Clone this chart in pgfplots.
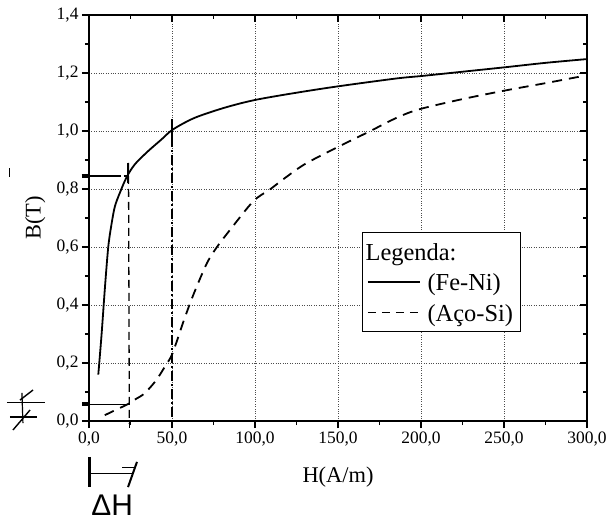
\documentclass[border=0pt]{standalone}
\usepackage{fontspec}
\setmainfont{Liberation Serif}
\newfontfamily\handfont{Liberation Sans}
\usepackage{pgfplots}
\pgfplotsset{compat=1.18}
\usetikzlibrary{calc}

\begin{document}
\begin{tikzpicture}
\begin{axis}[
    name=main,
    scale only axis, width=498bp, height=406bp,
    xmin=0, xmax=300, ymin=0, ymax=1.4,
    xtick={0,50,100,150,200,250,300}, minor x tick num=1,
    ytick={0,0.2,0.4,0.6,0.8,1.0,1.2,1.4}, minor y tick num=1,
    tick pos=left, tick align=outside,
    major tick length=7bp, minor tick length=4bp,
    every tick/.style={black, line width=1.2bp},
    axis line style={line width=1.4bp},
    grid=major, grid style={dotted, black!70, line width=0.7bp},
    scaled ticks=false,
    /pgf/number format/fixed,
    /pgf/number format/fixed zerofill,
    /pgf/number format/precision=1,
    /pgf/number format/use comma,
    /pgf/number format/assume math mode=true,
    tick label style={font=\fontsize{17.5}{19}\selectfont},
    label style={font=\fontsize{22.5}{25}\selectfont},
    xlabel={H(A/m)}, ylabel={B(T)},
    xlabel style={at={(axis description cs:0.5,-0.138)}, anchor=center},
    ylabel style={at={(axis description cs:-0.108,0.5)}, anchor=center},
    clip=false,
    legend style={at={(0.548,0.466)}, anchor=north west, draw=black, line width=0.8bp,
        fill=white, font=\fontsize{24.5}{27}\selectfont, cells={anchor=west},
        inner xsep=5bp, inner ysep=4bp,
        nodes={text height=22bp, text depth=4bp, inner ysep=2.25bp},
        /tikz/every odd column/.append style={column sep=5bp}},
    legend image code/.code={\draw[#1, line width=1.3bp] (0bp,0bp) -- (52bp,0bp);},
]
% Fe-Ni
\addplot[black, line width=1.8bp, smooth, tension=0.5, forget plot] coordinates {
(5.6,0.16) (7.6,0.30) (9.6,0.46) (11.6,0.60) (13.6,0.68) (15.6,0.74)
(18.6,0.787) (22.6,0.84) (27.6,0.885) (35.5,0.93) (43.5,0.97) (50.5,1.005)
(63.5,1.045) (81.5,1.08) (100,1.107) (125,1.132) (150,1.154) (185,1.181)
(201,1.19) (226,1.205) (251,1.22) (275,1.235) (300,1.248)
};
% Aco-Si
\addplot[black, line width=1.8bp, dash pattern=on 10bp off 7bp, smooth, tension=0.5, forget plot] coordinates {
(9.5,0.02) (16,0.038) (23.4,0.058) (28,0.075) (33.4,0.095) (40.4,0.14)
(46.3,0.193) (50.3,0.233) (57.2,0.348) (63.2,0.44) (71.1,0.545) (77.1,0.60)
(85.1,0.66) (99,0.758) (108.9,0.798) (116.9,0.833) (129.8,0.885) (149.3,0.943)
(169.5,1.0) (185.5,1.046) (199,1.075) (225,1.11) (251,1.14) (275,1.165) (298,1.19)
};

\addlegendimage{empty legend}
\addlegendentry{\hspace*{-62bp}Legenda:}
\addlegendimage{black}
\addlegendentry{(Fe-Ni)}
\addlegendimage{black, dash pattern=on 8bp off 6bp}
\addlegendentry{(Aço-Si)}

% hand-drawn marks
\draw[line width=1.3bp] (axis cs:-4,0.845) -- (axis cs:16,0.845);
\draw[line width=1.3bp, dash pattern=on 5bp off 3bp] (axis cs:16,0.845) -- (axis cs:23,0.845);
\draw[line width=4bp] (axis cs:-4.5,0.845) -- (axis cs:0,0.845);
\draw[line width=1.2bp] (axis cs:23.5,0.82) -- (axis cs:23.5,0.89);
\draw[line width=1.3bp, dash pattern=on 8bp off 5bp] (axis cs:23.8,0.89) -- (axis cs:24.3,-0.01);
\draw[line width=1.3bp, dash pattern=on 10bp off 3bp on 2bp off 3bp] (axis cs:50,1.04) -- (axis cs:50,0.013);
\draw[line width=2.5bp] (axis cs:50,0.98) -- (axis cs:50,1.03);
\draw[line width=1.3bp] (axis cs:-3.6,0.058) -- (axis cs:24.7,0.058);
\draw[line width=4bp] (axis cs:-4,0.058) -- (axis cs:0,0.058);
\draw[line width=1.3bp] (axis cs:24.3,0) -- (axis cs:24.3,-0.025);
% Delta H bracket
\draw[line width=1.3bp] (axis cs:0.5,-0.18) -- (axis cs:25.7,-0.18);
\draw[line width=3bp] (axis cs:0.5,-0.124) -- (axis cs:0.5,-0.228);
\draw[line width=2bp] (axis cs:23.5,-0.228) -- (axis cs:28.9,-0.141);
\draw[line width=1.3bp] (axis cs:20,-0.16) -- (axis cs:28,-0.16);
\node[font=\handfont\fontsize{30}{32}\selectfont] at (axis cs:14,-0.29) {ΔH};
% left mark
\draw[line width=1.2bp] (axis cs:-49.4,0.065) -- (axis cs:-26.5,0.065);
\draw[line width=1.2bp] (axis cs:-47.6,0.014) -- (axis cs:-31.3,0.014);
\draw[line width=1.2bp] (axis cs:-40.4,0.097) -- (axis cs:-39.8,-0.007);
\draw[line width=1.4bp] (axis cs:-41.6,0.072) -- (axis cs:-33.7,0.107);
\draw[line width=1.4bp] (axis cs:-45.8,-0.031) -- (axis cs:-35.5,0.038);
\draw[line width=1bp] (axis cs:-47.6,0.872) -- (axis cs:-47.6,0.841);
\end{axis}

\begin{axis}[
    at={(main.south west)}, anchor=south west,
    scale only axis, width=498bp, height=406bp,
    xmin=0, xmax=300, ymin=0, ymax=1.4,
    xtick={0,50,100,150,200,250,300}, minor x tick num=1,
    ytick={0,0.2,0.4,0.6,0.8,1.0,1.2,1.4}, minor y tick num=1,
    xtick pos=right, ytick pos=right, tick align=inside,
    major tick length=7bp, minor tick length=4bp,
    every tick/.style={black, line width=1.2bp},
    axis line style={line width=1.4bp},
    xticklabels={}, yticklabels={},
]
\end{axis}

\pgfresetboundingbox
\path[use as bounding box] ($(main.south west)+(-89bp,-100bp)$) rectangle ($(main.north east)+(21bp,15bp)$);
\end{tikzpicture}
\end{document}
